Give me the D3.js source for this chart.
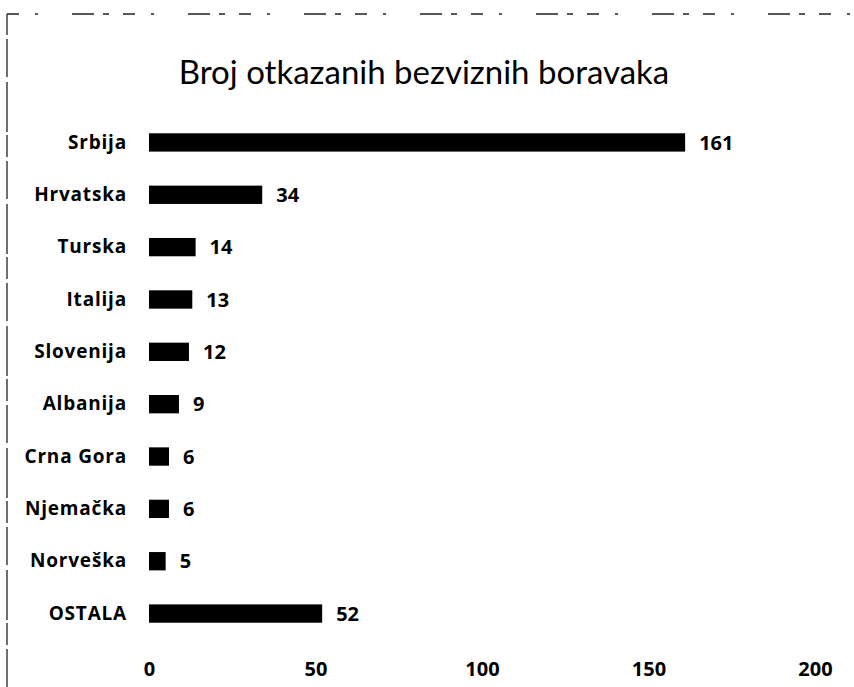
<!DOCTYPE html>
<html>

<head>
  <meta charset="utf-8">
  <style>
    body {
      margin: 0;
      background: #fff;
    }

    #chart text {
      fill: #000;
    }

    #chart .title {
      font-family: Lato, "Open Sans", sans-serif;
      font-size: 33px;
    }

    #chart .label {
      font-family: "Open Sans", "Noto Sans", sans-serif;
      font-weight: bold;
      font-size: 19px;
      letter-spacing: 0.8px;
    }

    #chart .value,
    #chart .tick text {
      font-family: "Open Sans", "Noto Sans", sans-serif;
      font-weight: bold;
      font-size: 20px;
    }
  </style>
</head>

<body>
  <svg id="chart" width="854" height="687"></svg>

  <script src="https://d3js.org/d3.v7.min.js"></script>
  <script>
    var countries = ['Srbija', 'Hrvatska', 'Turska', 'Italija', 'Slovenija',
      'Albanija', 'Crna Gora', 'Njemačka', 'Norveška', 'OSTALA'];
    var counts = [161, 34, 14, 13, 12, 9, 6, 6, 5, 52];
    var xTicks = [0, 50, 100, 150, 200];

    var svg = d3.select('#chart');

    var x = d3.scaleLinear()
      .domain([0, 200])
      .range([149, 815]);

    var y = d3.scaleBand()
      .domain(countries)
      .range([116, 640])
      .paddingInner(0.65)
      .paddingOuter(0.33);

    // dashed frame, like the scan
    svg.append('path')
      .attr('d', 'M7,687 L7,14')
      .attr('fill', 'none')
      .attr('stroke', '#222')
      .attr('stroke-width', 1.3)
      .attr('stroke-dasharray', '38,4,22,3,50,5');
    svg.append('path')
      .attr('d', 'M7,14 L854,14')
      .attr('fill', 'none')
      .attr('stroke', '#222')
      .attr('stroke-width', 1.5)
      .attr('stroke-dasharray', '12,16,3,34,22,9,6,14');

    svg.append('text')
      .attr('class', 'title')
      .attr('x', 424)
      .attr('y', 84)
      .attr('text-anchor', 'middle')
      .text('Broj otkazanih bezviznih boravaka');

    var rows = svg.selectAll('g.row')
      .data(countries)
      .join('g')
      .attr('class', 'row');

    rows.append('rect')
      .attr('x', x(0))
      .attr('y', d => y(d))
      .attr('height', y.bandwidth())
      .attr('width', (d, i) => x(counts[i]) - x(0))
      .attr('fill', '#000');

    rows.append('text')
      .attr('class', 'label')
      .attr('x', 127)
      .attr('y', d => y(d) + y.bandwidth() / 2)
      .attr('dy', '0.33em')
      .attr('text-anchor', 'end')
      .text(d => d);

    rows.append('text')
      .attr('class', 'value')
      .attr('x', (d, i) => x(counts[i]) + 14)
      .attr('y', d => y(d) + y.bandwidth() / 2)
      .attr('dy', '0.36em')
      .text((d, i) => counts[i]);

    var axis = svg.append('g')
      .attr('transform', 'translate(0,662)')
      .call(d3.axisBottom(x).tickValues(xTicks).tickSize(0).tickPadding(0));
    axis.select('.domain').remove();
    axis.selectAll('.tick text').attr('dy', '0.72em');
  </script>
</body>

</html>
